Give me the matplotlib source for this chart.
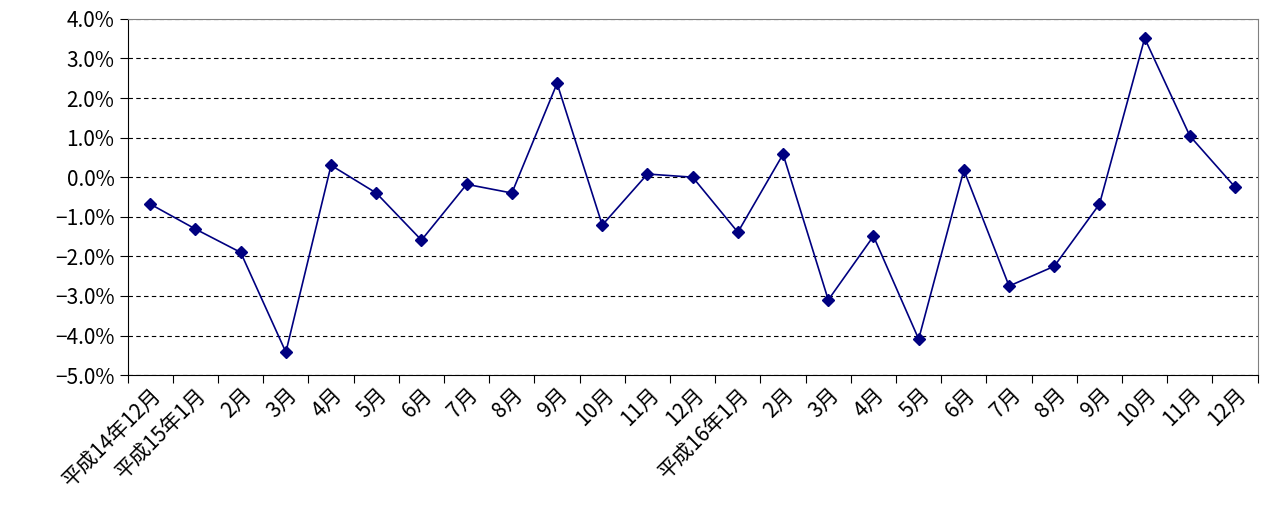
import matplotlib.pyplot as plt
import numpy as np
from matplotlib.ticker import FuncFormatter
from matplotlib.transforms import ScaledTranslation

plt.rcParams['font.family'] = ['Noto Sans CJK JP', 'DejaVu Sans']

labels = ["平成14年12月", "平成15年1月", "2月", "3月", "4月", "5月", "6月", "7月",
          "8月", "9月", "10月", "11月", "12月", "平成16年1月", "2月", "3月", "4月",
          "5月", "6月", "7月", "8月", "9月", "10月", "11月", "12月"]
values = [-0.68, -1.31, -1.90, -4.42, 0.30, -0.40, -1.59, -0.18, -0.40, 2.37,
          -1.21, 0.08, 0.00, -1.39, 0.58, -3.10, -1.49, -4.09, 0.18, -2.75,
          -2.25, -0.68, 3.51, 1.04, -0.25]

fig = plt.figure(figsize=(12.64, 5.09), dpi=100)
ax = fig.add_axes([0.101, 0.263, 0.894, 0.700])

x = np.arange(len(values))
ax.plot(x, values, '-', color="#000080", linewidth=1.2,
        marker="D", markersize=6, markerfacecolor="#000080", markeredgecolor="#000080")

ax.set_xlim(-0.5, len(values) - 0.5)
ax.set_ylim(-5, 4)
ax.set_yticks(np.arange(-5, 5, 1))
ax.yaxis.set_major_formatter(FuncFormatter(lambda v, p: f"{v:.1f}%".replace("-", "−")))
ax.yaxis.grid(True, linestyle=(0, (4, 3)), color="black", linewidth=0.8)

# tick marks at category boundaries, labels at category centres
ax.set_xticks(np.arange(-0.5, len(values), 1))
ax.set_xticklabels([])
ax.set_xticks(x, minor=True)
ax.set_xticklabels(labels, minor=True, rotation=45, ha="right",
                   rotation_mode="anchor", fontsize=15)
off = ScaledTranslation(8 / 72, 0, fig.dpi_scale_trans)
for t in ax.get_xticklabels(minor=True):
    t.set_transform(t.get_transform() + off)
ax.tick_params(axis="x", which="minor", length=0, pad=6)
ax.tick_params(axis="x", which="major", length=6, direction="out")
ax.tick_params(axis="y", labelsize=15, length=6)

for s in ax.spines.values():
    s.set_color("black")
ax.spines["top"].set_color("#808080")
ax.spines["right"].set_color("#808080")

fig.savefig("out.png", dpi=100)
